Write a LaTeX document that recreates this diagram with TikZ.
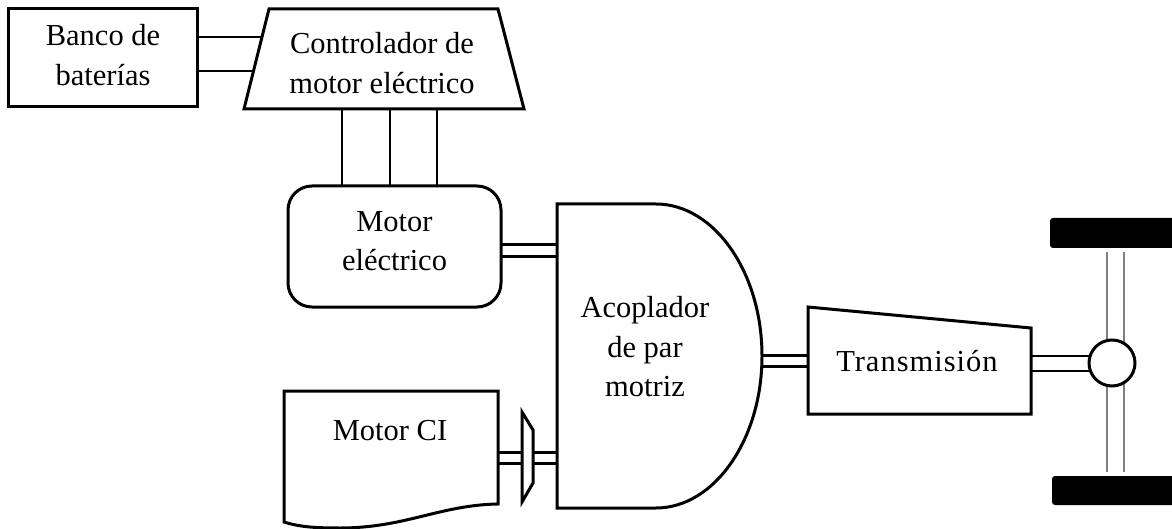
\documentclass[tikz,border=0pt]{standalone}
\usepackage{fontspec}
\setmainfont{Liberation Serif}
\usetikzlibrary{positioning}

\begin{document}
\begin{tikzpicture}[x=1pt,y=-1pt,every node/.style={outer sep=0pt},
    block/.style={draw,line width=3pt,inner sep=0pt},
    label/.style={inner sep=0pt,align=center,font=\fontsize{30.5}{39.5}\selectfont},
    outline/.style={draw,line width=3pt,line join=miter},
    wire/.style={line width=1.5pt},
    shaft/.style={line width=3pt},
    axle/.style={line width=2.5pt,black!50},
    wheel/.style={fill=black,rounded corners=3pt}]
   \useasboundingbox (0,0) rectangle (1172,529);

   % electric path
   \node[block,minimum width=189pt,minimum height=98pt] (bat) at (102.5,58) {};
   \node[label] (batl) at (103,55) {Banco de\\bater\'ias};
   \draw[outline] (269,9) -- (498,9) -- (524,109) coordinate (cbr) -- (244,109) coordinate (cbl) -- cycle;
   \node[label] (ctrll) at (382,63) {Controlador de\\motor el\'ectrico};
   \node[block,rounded corners=24pt,minimum width=213pt,minimum height=121pt] (me) at (394.5,246.5) {};
   \node[label] (mel) at (394.5,241) {Motor\\el\'ectrico};
   \coordinate (c1) at (262,37);
   \coordinate (c2) at (253.5,71);
   \draw[wire] (bat.east|-c1) -- (c1);
   \draw[wire] (bat.east|-c2) -- (c2);
   \foreach \X in {342,390,437}
     \draw[wire] (\X,109) coordinate (t\X) -- (t\X|-me.north);

   % torque coupler
   \draw[outline] (557,204) coordinate (ac1) -- (656,204)
     .. controls (714,204) and (762,272) .. (762,356) coordinate (acr)
     .. controls (762,440) and (714,508) .. (656,508) -- (557,508) coordinate (ac2) -- cycle;
   \node[label] (acop) at (645,347) {Acoplador\\de par\\motriz};

   % combustion engine with clutch
   \draw[outline] (284,391) coordinate (ci) -- (498,391) coordinate (cir) -- (498,504)
     .. controls (440,505) and (405,528) .. (340,528)
     .. controls (315,528) and (300,527) .. (284,522) -- cycle;
   \node[label] (mci) at (390,431) {Motor CI};
   \draw[outline] (522,412) coordinate (cl1) -- (533,430) -- (533,483) coordinate (cl2) -- (522,502) -- cycle;

   % transmission
   \draw[outline] (808,307) coordinate (tr) -- (1031,328) -- (1031,414) coordinate (trb) -- (808,414) -- cycle;
   \node[label] (trans) at (917,361) {\addfontfeature{LetterSpace=3.3}Transmisi\'on};

   % wheels and axle
   \fill[wheel] (1050,218) rectangle (1180,248);
   \fill[wheel] (1052,476) rectangle (1180,505);
   \foreach \X in {1107,1124}
     \draw[axle] (\X,252) -- (\X,472);
   \node[draw,circle,fill=white,line width=3pt,minimum size=46pt,inner sep=0pt] (dif) at (1112,363) {};

   % shafts
   \foreach \Y in {245,257}
     \draw[shaft] (me.east|-0,\Y) -- (ac1|-0,\Y);
   \foreach \Y in {452,463} {
     \draw[shaft] (cir|-0,\Y) -- (cl1|-0,\Y);
     \draw[shaft] (cl2|-0,\Y) -- (ac1|-0,\Y);
   }
   \foreach \Y in {355,366}
     \draw[shaft] (acr|-0,\Y) -- (tr|-0,\Y);
   \foreach \Y in {356,371}
     \draw[wire] (trb|-0,\Y) -- (dif.west|-0,\Y);
 \end{tikzpicture}
\end{document}
